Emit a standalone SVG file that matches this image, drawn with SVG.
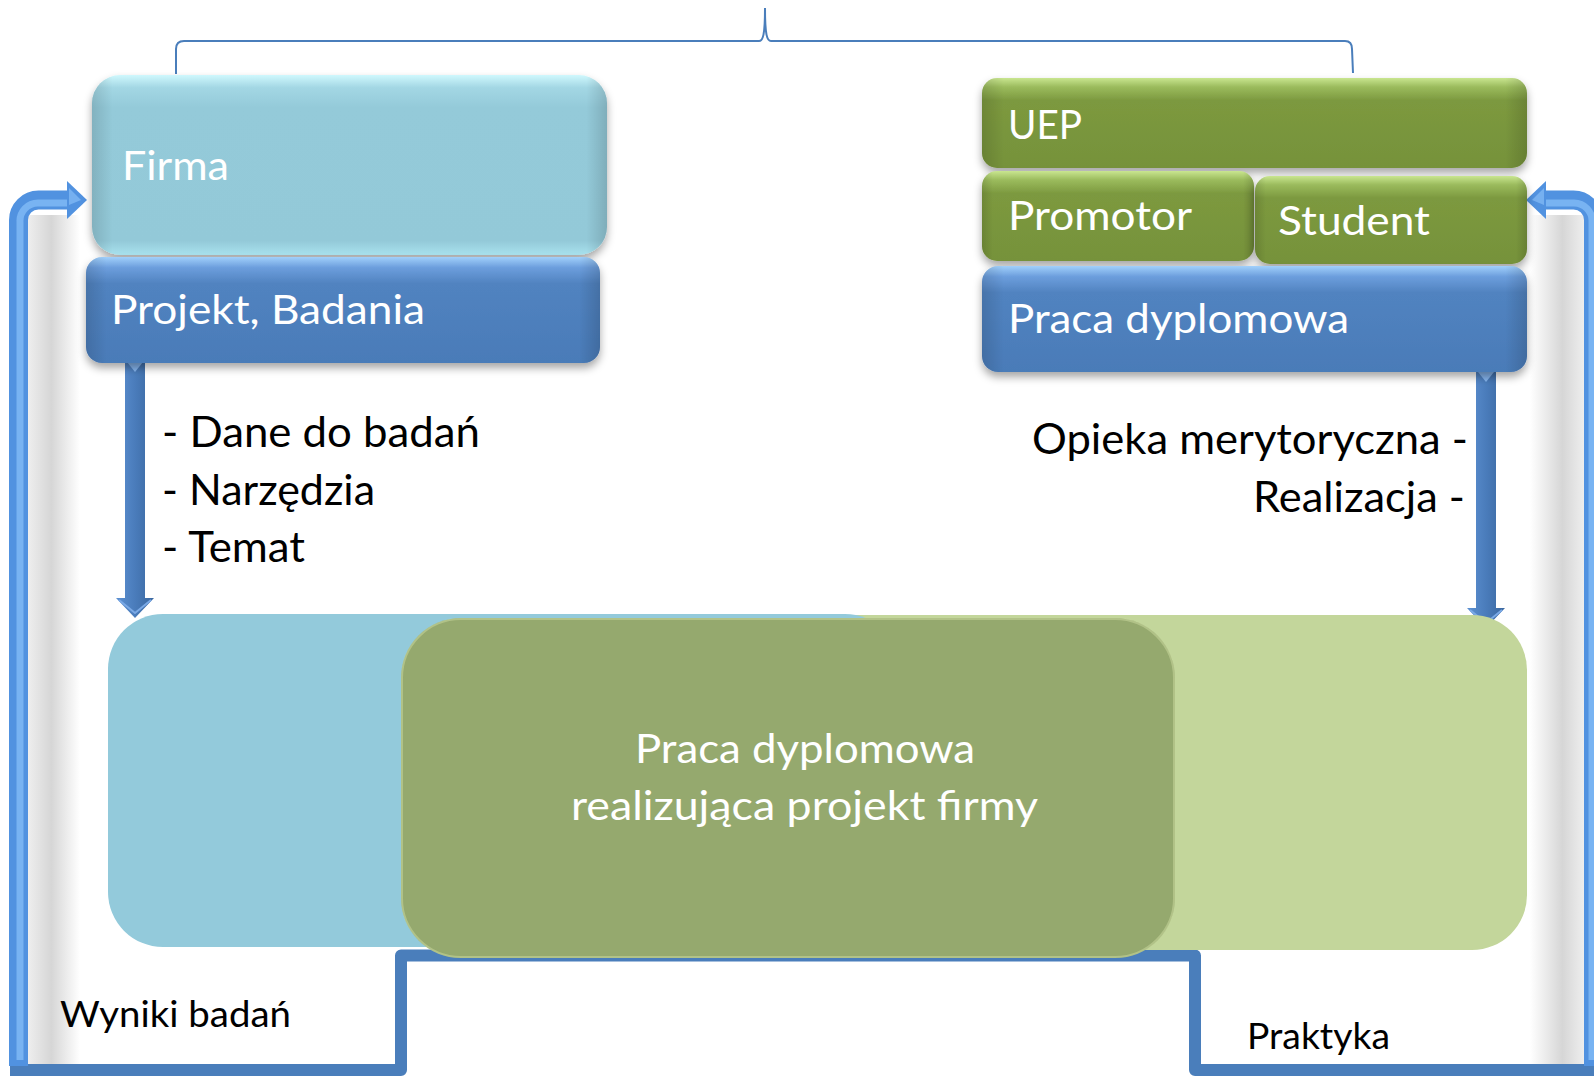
<svg xmlns="http://www.w3.org/2000/svg" width="1594" height="1076" viewBox="0 0 1594 1076">
<style>
.lbl{font-family:Lato,"Open Sans","Liberation Sans",sans-serif;}
.w{fill:#ffffff;font-size:41px;}
.b{fill:#000000;font-size:42px;}
.s{fill:#000000;font-size:36px;}
.conn{fill:none;stroke:#4a7ebb;stroke-width:12;stroke-linejoin:round;}
.bent{fill:none;stroke:#5192e0;stroke-width:19;}
.benth{fill:none;stroke:#7fb8f4;stroke-width:7;opacity:0.85;}
.brace{fill:none;stroke:#4a7ebb;stroke-width:2;}
</style>
<defs>
<filter id="sh" x="-5%" y="-10%" width="110%" height="135%">
<feDropShadow dx="0" dy="5" stdDeviation="4" flood-color="#000" flood-opacity="0.35"/>
</filter>
<linearGradient id="gFirma" x1="0" y1="0" x2="0" y2="1">
<stop offset="0" stop-color="#cff8fd"/><stop offset="0.07" stop-color="#a3d7e4"/><stop offset="0.18" stop-color="#94cad9"/><stop offset="0.92" stop-color="#93c9d8"/><stop offset="1" stop-color="#a9e2ee"/>
</linearGradient>
<linearGradient id="gBlue" x1="0" y1="0" x2="0" y2="1">
<stop offset="0" stop-color="#a1d0fb"/><stop offset="0.1" stop-color="#6c9edd"/><stop offset="0.25" stop-color="#5183c0"/><stop offset="1" stop-color="#4a7bb8"/>
</linearGradient>
<linearGradient id="gGreen" x1="0" y1="0" x2="0" y2="1">
<stop offset="0" stop-color="#c9e690"/><stop offset="0.1" stop-color="#9bbb5d"/><stop offset="0.25" stop-color="#7c993f"/><stop offset="1" stop-color="#76923a"/>
</linearGradient>
<linearGradient id="gEdge" x1="0" y1="0" x2="1" y2="0">
<stop offset="0" stop-color="#000" stop-opacity="0.12"/><stop offset="0.04" stop-color="#000" stop-opacity="0"/><stop offset="0.96" stop-color="#000" stop-opacity="0"/><stop offset="1" stop-color="#000" stop-opacity="0.14"/>
</linearGradient>
<linearGradient id="gDown" x1="0" y1="0" x2="1" y2="0">
<stop offset="0" stop-color="#5d91d2"/><stop offset="0.5" stop-color="#4a7cbb"/><stop offset="1" stop-color="#3a679f"/>
</linearGradient>
<linearGradient id="gShL" x1="0" y1="0" x2="1" y2="0">
<stop offset="0" stop-color="#eeeeee"/><stop offset="0.45" stop-color="#d6d6d6"/><stop offset="1" stop-color="#ffffff"/>
</linearGradient>
<linearGradient id="gShR" x1="0" y1="0" x2="1" y2="0">
<stop offset="0" stop-color="#ffffff"/><stop offset="0.6" stop-color="#d6d6d6"/><stop offset="1" stop-color="#eeeeee"/>
</linearGradient>
</defs>
<rect width="1594" height="1076" fill="#ffffff"/>

<!-- shadows of bent arrows -->
<rect x="28" y="215" width="52" height="849" fill="url(#gShL)"/>
<rect x="1530" y="215" width="54" height="849" fill="url(#gShR)"/>

<!-- brace -->
<g id="brace">
<path class="brace" d="M176,74 L176,49 Q176,41 184,41 L759,41 C763,41 765,35 765,8 C765,35 767,41 771,41 L1345,41 Q1352,41 1352,49 L1353,73"/>
</g>

<g id="connectors">
<path class="conn" d="M10,1070 L401,1070 L401,955.5 L1195,955.5 L1195,1070 L1594,1070"/>
<g id="loop-left">
<path class="bent" d="M18.5,1066 L18.5,220 A20,20 0 0 1 38.5,200 L68,200"/>
<path class="benth" d="M20,1060 L20,222 A18,18 0 0 1 38,203 L68,203"/>
<polygon points="67,181 87,200 67,219" fill="#5192e0"/>
<polygon points="69,188 81,200 69,205" fill="#7fb8f4" opacity="0.8"/>
</g>
<g id="loop-right">
<path class="bent" d="M1593.5,1066 L1593.5,220 A20,20 0 0 0 1573.5,200 L1545,200"/>
<path class="benth" d="M1592,1060 L1592,222 A18,18 0 0 0 1574,203 L1545,203"/>
<polygon points="1546,181 1526,200 1546,219" fill="#5192e0"/>
<polygon points="1544,188 1532,200 1544,205" fill="#7fb8f4" opacity="0.8"/>
</g>
<g id="arrow-left-down">
<polygon points="125,360 145,360 145,598 154,598 135,618 116,598 125,598" fill="url(#gDown)"/>
<polygon points="127,362 143,362 135,372" fill="#86b6ef"/>
<polyline points="119,600 135,613 151,600" fill="none" stroke="#7aa9e6" stroke-width="2"/>
</g>
<g id="arrow-right-down">
<polygon points="1476,370 1496,370 1496,608 1505,608 1486,628 1467,608 1476,608" fill="url(#gDown)"/>
<polygon points="1478,372 1494,372 1486,382" fill="#86b6ef"/>
<polyline points="1470,610 1486,623 1502,610" fill="none" stroke="#7aa9e6" stroke-width="2"/>
</g>
</g>

<g id="bottom-green">
<rect x="400" y="615" width="1127" height="335" rx="55" fill="#c3d69b"/>
</g>
<g id="bottom-blue">
<rect x="108" y="614" width="792" height="333" rx="55" fill="#93cadb"/>
</g>
<g id="bottom-center">
<rect x="401" y="618" width="774" height="340" rx="60" fill="#95a96e"/>
<rect x="402" y="619" width="772" height="338" rx="59" fill="none" stroke="#e4f0b8" stroke-opacity="0.35" stroke-width="2"/>
<text class="lbl w" x="635" y="763" textLength="340" lengthAdjust="spacingAndGlyphs">Praca dyplomowa</text>
<text class="lbl w" x="571" y="820" textLength="467" lengthAdjust="spacingAndGlyphs">realizująca projekt firmy</text>
</g>

<g id="firma">
<rect x="92" y="75" width="515" height="180" rx="28" fill="url(#gFirma)" filter="url(#sh)"/>
<rect x="92" y="75" width="515" height="180" rx="28" fill="url(#gEdge)"/>
<text class="lbl w" x="122" y="180" textLength="107" lengthAdjust="spacingAndGlyphs">Firma</text>
</g>
<g id="projekt">
<rect x="86" y="257" width="514" height="106" rx="16" fill="url(#gBlue)" filter="url(#sh)"/>
<rect x="86" y="257" width="514" height="106" rx="16" fill="url(#gEdge)"/>
<text class="lbl w" x="111" y="324" textLength="314" lengthAdjust="spacingAndGlyphs">Projekt, Badania</text>
</g>
<g id="uep">
<rect x="982" y="78" width="545" height="90" rx="15" fill="url(#gGreen)" filter="url(#sh)"/>
<rect x="982" y="78" width="545" height="90" rx="15" fill="url(#gEdge)"/>
<text class="lbl w" x="1008" y="139" textLength="74" lengthAdjust="spacingAndGlyphs">UEP</text>
</g>
<g id="promotor">
<rect x="982" y="171" width="272" height="90" rx="15" fill="url(#gGreen)" filter="url(#sh)"/>
<rect x="982" y="171" width="272" height="90" rx="15" fill="url(#gEdge)"/>
<text class="lbl w" x="1008" y="230" textLength="184" lengthAdjust="spacingAndGlyphs">Promotor</text>
</g>
<g id="student">
<rect x="1255" y="176" width="272" height="88" rx="15" fill="url(#gGreen)" filter="url(#sh)"/>
<rect x="1255" y="176" width="272" height="88" rx="15" fill="url(#gEdge)"/>
<text class="lbl w" x="1278" y="235" textLength="152" lengthAdjust="spacingAndGlyphs">Student</text>
</g>
<g id="praca-top">
<rect x="982" y="266" width="545" height="106" rx="16" fill="url(#gBlue)" filter="url(#sh)"/>
<rect x="982" y="266" width="545" height="106" rx="16" fill="url(#gEdge)"/>
<text class="lbl w" x="1008" y="333" textLength="341" lengthAdjust="spacingAndGlyphs">Praca dyplomowa</text>
</g>

<g id="labels">
<text class="lbl b" x="162" y="447" textLength="318" lengthAdjust="spacingAndGlyphs">- Dane do badań</text>
<text class="lbl b" x="162" y="505" textLength="213" lengthAdjust="spacingAndGlyphs">- Narzędzia</text>
<text class="lbl b" x="162" y="562" textLength="143" lengthAdjust="spacingAndGlyphs">- Temat</text>
<text class="lbl b" x="1032" y="454" textLength="436" lengthAdjust="spacingAndGlyphs">Opieka merytoryczna -</text>
<text class="lbl b" x="1253" y="512" textLength="212" lengthAdjust="spacingAndGlyphs">Realizacja -</text>
<text class="lbl s" x="60" y="1027" textLength="231" lengthAdjust="spacingAndGlyphs">Wyniki badań</text>
<text class="lbl s" x="1247" y="1049" textLength="143" lengthAdjust="spacingAndGlyphs">Praktyka</text>
</g>
</svg>
